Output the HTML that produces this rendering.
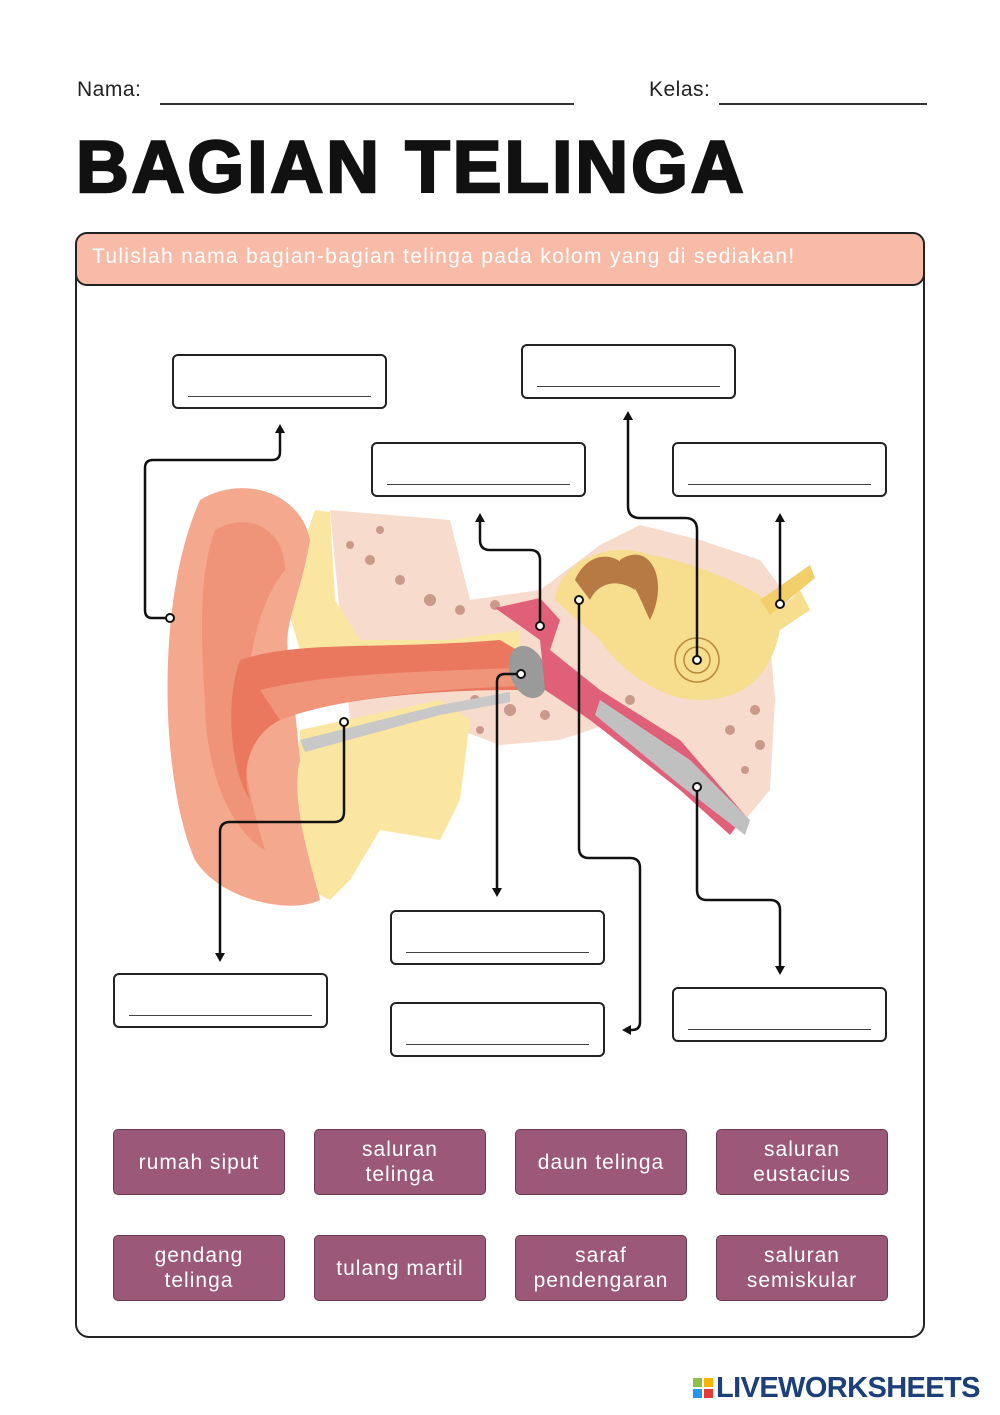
<!DOCTYPE html>
<html><head><meta charset="utf-8"><style>
body{margin:0;background:#fff;width:1000px;height:1415px;position:relative;font-family:"Liberation Sans",sans-serif;overflow:hidden}
.a{position:absolute}
.box{position:absolute;width:211px;height:51px;border:2.5px solid #222;border-radius:6px;background:#fff}
.box:after{content:"";position:absolute;left:14px;right:14px;bottom:10px;border-top:1.5px solid #444}
.w{position:absolute;width:170px;height:64px;background:#9c5878;border:1.5px solid #6b3a52;border-radius:5px;color:#fff;font-size:21px;display:flex;align-items:center;justify-content:center;text-align:center;line-height:25px;letter-spacing:1px}
</style></head><body>
<div class="a" style="left:77px;top:78px;font-size:21px;color:#222;letter-spacing:.5px">Nama:</div>
<div class="a" style="left:160px;top:103px;width:414px;border-top:2px solid #333"></div>
<div class="a" style="left:649px;top:78px;font-size:21px;color:#222;letter-spacing:.5px">Kelas:</div>
<div class="a" style="left:719px;top:103px;width:208px;border-top:2px solid #333"></div>
<div class="a" style="left:76px;top:126px;font-size:73px;font-weight:900;color:#111;letter-spacing:3px;-webkit-text-stroke:2.5px #111">BAGIAN TELINGA</div>
<div class="a" style="left:75px;top:232px;width:846px;height:1102px;border:2.5px solid #222;border-radius:14px"></div>
<div class="a" style="left:75px;top:232px;width:846px;height:50px;border:2.5px solid #222;border-radius:12px;background:#f7bba8"></div>
<div class="a" style="left:92px;top:245px;font-size:21px;color:#fff;letter-spacing:1.3px">Tulislah nama bagian-bagian telinga pada kolom yang di sediakan!</div>

<svg class="a" style="left:0;top:0" width="1000" height="1415">
<path d="M330 510 L450 520 L470 600 L540 590 L600 545 L640 525 L700 540 L760 560 L790 600 L770 640 L775 700 L770 790 L745 820 L730 800 L690 760 L620 720 L560 740 L500 745 L460 730 L440 760 L350 720 Z" fill="#f7dccd"/>
<g fill="#c9998a">
<circle cx="370" cy="560" r="5"/><circle cx="400" cy="580" r="5"/><circle cx="430" cy="600" r="6"/><circle cx="460" cy="610" r="5"/><circle cx="495" cy="605" r="5"/><circle cx="380" cy="530" r="4"/><circle cx="350" cy="545" r="4"/>
<circle cx="475" cy="700" r="5"/><circle cx="510" cy="710" r="6"/><circle cx="545" cy="715" r="5"/><circle cx="480" cy="730" r="4"/><circle cx="600" cy="705" r="5"/><circle cx="630" cy="700" r="5"/>
<circle cx="740" cy="680" r="5"/><circle cx="755" cy="710" r="5"/><circle cx="730" cy="730" r="5"/><circle cx="760" cy="745" r="5"/><circle cx="745" cy="770" r="4"/><circle cx="610" cy="560" r="5"/><circle cx="600" cy="590" r="4"/>
</g>
<path d="M315 510 L330 512 L335 600 L360 640 L450 640 L520 630 L520 650 L440 660 L360 665 L300 650 L285 600 Z" fill="#fae6a0"/>
<path d="M300 730 L440 700 L470 720 L460 800 L440 840 L380 830 L350 880 L330 900 L310 890 L295 800 Z" fill="#fae6a0"/>
<path d="M300 650 L360 665 L500 650 L520 650 L520 660 L440 672 L360 680 L300 670Z" fill="#c8c8c8"/>
<path d="M300 740 L440 705 L510 692 L510 702 L440 715 L305 752Z" fill="#c8c8c8"/>
<path d="M200 500 C240 475 300 490 310 540 C300 600 280 630 290 660 L300 760 C290 800 310 860 320 900 C290 915 220 900 195 860 C160 780 155 600 200 500Z" fill="#f4a88e"/>
<path d="M215 530 C250 510 285 530 285 570 C260 600 250 650 245 700 C240 760 250 800 265 850 C230 830 205 770 205 700 C200 630 200 570 215 530Z" fill="#ef9479"/>
<path d="M240 660 C300 640 380 650 500 640 L525 655 L520 690 C420 690 330 700 280 720 C250 735 240 770 250 800 C230 770 225 700 240 660Z" fill="#e9785f"/>
<path d="M260 690 C320 675 400 672 515 668 L518 686 C420 690 330 700 280 720Z" fill="#f1957a"/>
<ellipse cx="528" cy="672" rx="18" ry="27" fill="#9a9a9a" transform="rotate(-20 528 672)"/>
<path d="M495 608 L540 598 L560 620 L550 650 L600 690 L680 740 L745 815 L730 835 L680 790 L590 720 L545 690 L540 640 Z" fill="#e0607a"/>
<path d="M600 700 L690 760 L750 820 L745 835 L680 785 L595 715Z" fill="#c0c0c0"/>
<path d="M555 600 C560 560 610 540 650 555 C690 560 760 590 780 610 L800 590 L810 610 L780 630 C770 680 740 700 700 700 C660 700 620 670 600 640 Z" fill="#f7dd8e"/>
<path d="M575 580 C590 545 630 550 635 590 C620 580 600 580 590 600Z" fill="#b87a45"/>
<path d="M620 560 C650 540 670 580 650 620 C640 600 635 580 620 575Z" fill="#b87a45"/>
<circle cx="697" cy="660" r="22" fill="none" stroke="#b88a3a" stroke-width="1.5"/><circle cx="697" cy="660" r="13" fill="none" stroke="#b88a3a" stroke-width="1.5"/>
<path d="M760 600 L810 565 L815 578 L770 615Z" fill="#f2cf6a"/>
<g fill="none" stroke="#111" stroke-width="2.5">
<path d="M170 618 H152 Q145 618 145 610 V468 Q145 460 153 460 H272 Q280 460 280 452 V430"/>
<path d="M540 626 V560 Q540 550 530 550 H490 Q480 550 480 540 V520"/>
<path d="M697 660 V530 Q697 518 685 518 H640 Q628 518 628 506 V418"/>
<path d="M780 604 V520"/>
<path d="M344 722 V812 Q344 822 334 822 H230 Q220 822 220 832 V955"/>
<path d="M521 674 H505 Q497 674 497 682 V890"/>
<path d="M579 600 V848 Q579 858 589 858 H630 Q640 858 640 868 V1022 Q640 1030 632 1030 H628"/>
<path d="M697 787 V890 Q697 900 707 900 H770 Q780 900 780 910 V968"/>
</g>
<g fill="#111">
<path d="M280 424 L275 433 L285 433Z"/><path d="M480 513 L475 522 L485 522Z"/><path d="M628 411 L623 420 L633 420Z"/><path d="M780 513 L775 522 L785 522Z"/>
<path d="M220 962 L215 953 L225 953Z"/><path d="M497 897 L492 888 L502 888Z"/><path d="M780 975 L775 966 L785 966Z"/><path d="M622 1030 L631 1025 L631 1035Z"/>
</g>
<g fill="#fff" stroke="#111" stroke-width="2">
<circle cx="170" cy="618" r="4"/><circle cx="540" cy="626" r="4"/><circle cx="697" cy="660" r="4"/><circle cx="780" cy="604" r="4"/><circle cx="344" cy="722" r="4"/><circle cx="521" cy="674" r="4"/><circle cx="579" cy="600" r="4"/><circle cx="697" cy="787" r="4"/>
</g>
</svg>

<div class="box" style="left:172px;top:354px"></div>
<div class="box" style="left:521px;top:344px"></div>
<div class="box" style="left:371px;top:442px"></div>
<div class="box" style="left:672px;top:442px"></div>
<div class="box" style="left:113px;top:973px"></div>
<div class="box" style="left:390px;top:910px"></div>
<div class="box" style="left:390px;top:1002px"></div>
<div class="box" style="left:672px;top:987px"></div>

<div class="w" style="left:113px;top:1129px">rumah siput</div>
<div class="w" style="left:314px;top:1129px">saluran<br>telinga</div>
<div class="w" style="left:515px;top:1129px">daun telinga</div>
<div class="w" style="left:716px;top:1129px">saluran<br>eustacius</div>
<div class="w" style="left:113px;top:1235px">gendang<br>telinga</div>
<div class="w" style="left:314px;top:1235px">tulang martil</div>
<div class="w" style="left:515px;top:1235px">saraf<br>pendengaran</div>
<div class="w" style="left:716px;top:1235px">saluran<br>semiskular</div>

<div class="a" style="left:693px;top:1378px;width:9px;height:9px;background:#8bc34a"></div>
<div class="a" style="left:704px;top:1378px;width:9px;height:9px;background:#f5b400"></div>
<div class="a" style="left:693px;top:1389px;width:9px;height:9px;background:#2196f3"></div>
<div class="a" style="left:704px;top:1389px;width:9px;height:9px;background:#e53935"></div>
<div class="a" style="left:716px;top:1372px;font-size:29px;font-weight:bold;color:#1c3f7a;letter-spacing:-0.6px">LIVEWORKSHEETS</div>
</body></html>
